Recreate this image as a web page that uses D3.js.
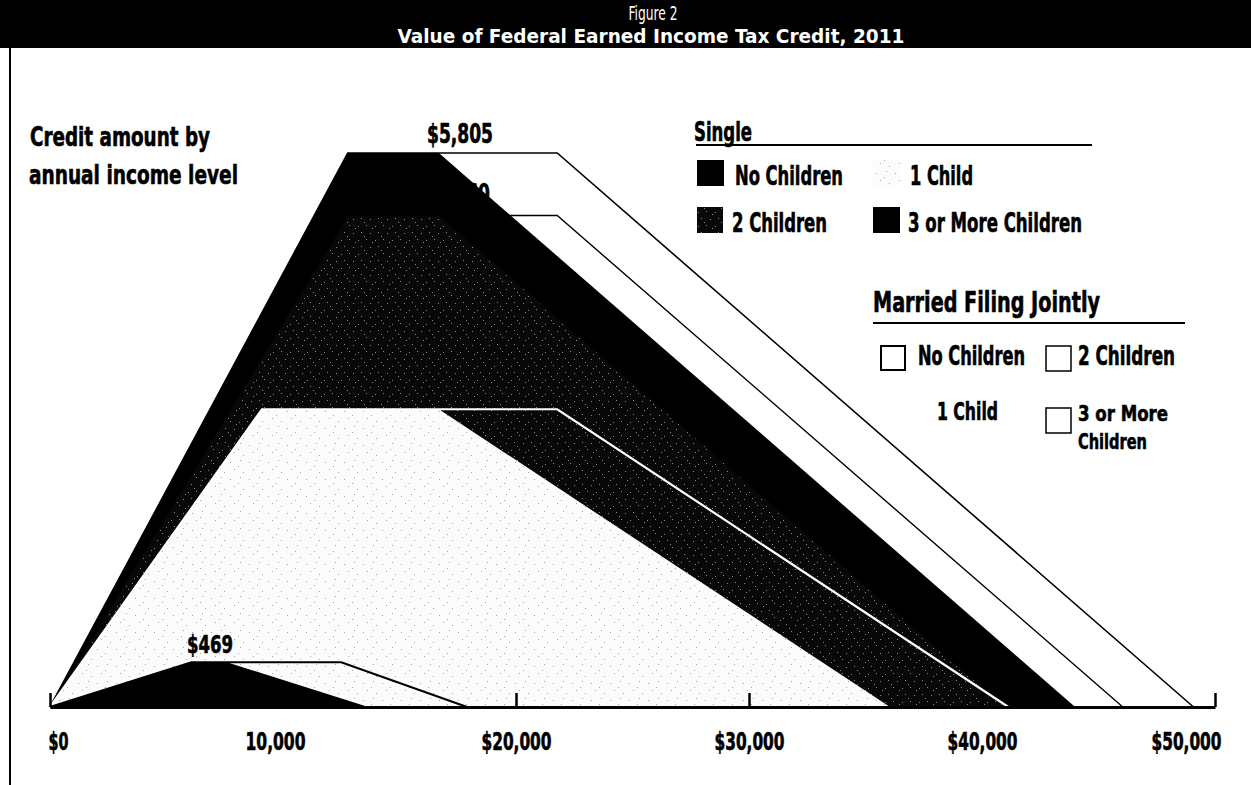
<!DOCTYPE html>
<html>
<head>
<meta charset="utf-8">
<script src="https://cdn.jsdelivr.net/npm/d3@7/dist/d3.min.js"></script>
<style>
  html, body { margin: 0; padding: 0; background: #fff; }
  svg { display: block; }
  .t { font-family: "Liberation Sans Narrow", "DejaVu Sans Condensed", "Liberation Sans", sans-serif; font-weight: bold; fill: #000; stroke: #000; stroke-width: 0.6px; }
</style>
</head>
<body>
<svg id="chart" width="1251" height="785"></svg>
<script>
// ---------- DATA (income in $, credit in $) ----------
const titleLine1 = "Figure 2";
const titleLine2 = "Value of Federal Earned Income Tax Credit, 2011";
const subtitleLines = ["Credit amount by", "annual income level"];

const tickValues = [0, 10000, 20000, 30000, 40000, 50000];
const tickLabels = ["$0", "10,000", "$20,000", "$30,000", "$40,000", "$50,000"];

// Single filers (filled areas)
const singleNoChildren    = [[0, 0], [6070, 469],  [7590, 469],   [13660, 0]];
const singleOneChild      = [[0, 0], [9100, 3120], [16690, 3120], [36052, 0]];
const singleTwoChildren   = [[0, 0], [12780, 5150], [16690, 5150], [40964, 0]];
const singleThreeChildren = [[0, 0], [12780, 5805], [16690, 5805], [43998, 0]];

// Married filing jointly (outlines)
const marriedNoChildren    = [[0, 0], [6070, 469],  [12500, 469],  [17900, 0]];
const marriedOneChild      = [[0, 0], [9100, 3120], [21770, 3120], [41132, 0]];
const marriedTwoChildren   = [[0, 0], [12780, 5150], [21770, 5150], [46044, 0]];
const marriedThreeChildren = [[0, 0], [12780, 5805], [21770, 5805], [49078, 0]];

const valueLabels = [
  { income: 16690, credit: 5805, text: "$5,805" },
  { income: 16690, credit: 5150, text: "$5,160" },
  { income: 7590,  credit: 469,  text: "$469" }
];

const singleLegend  = ["No Children", "1 Child", "2 Children", "3 or More Children"];
const marriedLegend = ["No Children", "2 Children", "1 Child", "3 or More", "Children"];

// ---------- DRAWING ----------
const svg = d3.select("#chart");
const defs = svg.append("defs");

// speckle textures (scanned look)
const darkPat = defs.append("pattern").attr("id", "speckDark")
  .attr("patternUnits", "userSpaceOnUse").attr("width", 17).attr("height", 14);
darkPat.append("rect").attr("width", 17).attr("height", 14).attr("fill", "#080808");
[[1,2],[9,1],[4,8],[13,9],[15,4],[7,12]].forEach(p =>
  darkPat.append("rect").attr("x", p[0]).attr("y", p[1]).attr("width", 1).attr("height", 1).attr("fill", "#8a8a8a"));

const lightPat = defs.append("pattern").attr("id", "speckLight")
  .attr("patternUnits", "userSpaceOnUse").attr("width", 19).attr("height", 17);
lightPat.append("rect").attr("width", 19).attr("height", 17).attr("fill", "#fcfcfc");
[[2,3],[12,1],[6,10],[15,13],[10,7]].forEach(p =>
  lightPat.append("rect").attr("x", p[0]).attr("y", p[1]).attr("width", 1).attr("height", 1).attr("fill", "#a5a5a5"));

// Title bar
svg.append("rect").attr("x", 0).attr("y", 0).attr("width", 1251).attr("height", 48).attr("fill", "#000");
svg.append("text").attr("class", "t").attr("x", 653).attr("y", 20)
  .attr("text-anchor", "middle").style("font-weight", "normal").style("fill", "#fff").style("stroke", "none")
  .style("font-size", "20px").attr("textLength", 49).attr("lengthAdjust", "spacingAndGlyphs").text(titleLine1);
svg.append("text").attr("class", "t").attr("x", 651).attr("y", 43)
  .attr("text-anchor", "middle").style("fill", "#fff").style("stroke", "none")
  .style("font-size", "20px").attr("textLength", 507).attr("lengthAdjust", "spacingAndGlyphs")
  .text(titleLine2);

// left frame line
svg.append("line").attr("x1", 10).attr("x2", 10).attr("y1", 48).attr("y2", 785)
  .attr("stroke", "#000").attr("stroke-width", 2);

// Scales
const x = d3.scaleLinear().domain([0, 50000]).range([50, 1215]);
const y = d3.scaleLinear().domain([0, 5805]).range([707, 153]);

const area = d3.area().x(d => x(d[0])).y0(y(0)).y1(d => y(d[1]));
const line = d3.line().x(d => x(d[0])).y(d => y(d[1]));

const plot = svg.append("g");
plot.append("path").datum(singleThreeChildren).attr("d", area).attr("fill", "#000");
plot.append("path").datum(singleTwoChildren).attr("d", area).attr("fill", "url(#speckDark)");
plot.append("path").datum(singleOneChild).attr("d", area).attr("fill", "url(#speckLight)");
plot.append("path").datum(singleNoChildren).attr("d", area).attr("fill", "#000");

plot.append("path").datum(marriedThreeChildren).attr("d", line).attr("fill", "none").attr("stroke", "#000").attr("stroke-width", 1.6);
plot.append("path").datum(marriedTwoChildren).attr("d", line).attr("fill", "none").attr("stroke", "#000").attr("stroke-width", 1.4);
plot.append("path").datum(marriedOneChild).attr("d", line).attr("fill", "none").attr("stroke", "#fff").attr("stroke-width", 2.2);
plot.append("path").datum(marriedNoChildren).attr("d", line).attr("fill", "none").attr("stroke", "#000").attr("stroke-width", 2.2);

// Axis
const axis = d3.axisBottom(x).tickValues(tickValues)
  .tickFormat((d, i) => tickLabels[i]).tickSizeInner(-14).tickSizeOuter(0).tickPadding(25);
const ax = svg.append("g").attr("transform", `translate(0,${y(0)})`).call(axis);
ax.select(".domain").attr("stroke", "#000").attr("stroke-width", 3);
ax.selectAll(".tick line").attr("stroke", "#000").attr("stroke-width", 2.5);
ax.selectAll(".tick text").attr("class", "t").style("font-size", "24px").attr("fill", "#000")
  .attr("y", 43).attr("dy", null)
  .attr("textLength", (d, i) => i === 1 ? 60 : 70).attr("lengthAdjust", "spacingAndGlyphs");
ax.selectAll(".tick text").filter((d, i) => i === 0).attr("text-anchor", "start").attr("textLength", 20);
ax.selectAll(".tick text").filter((d, i) => i === tickValues.length - 1).attr("text-anchor", "end").attr("dx", 6);
ax.selectAll(".tick text").filter((d, i) => i === 1).attr("dx", -8);
ax.selectAll(".tick text").filter((d, i) => i === 0).attr("dx", -2);

// helper for text
function txt(xp, yp, s, size, len, anchor) {
  const t = svg.append("text").attr("class", "t").attr("x", xp).attr("y", yp)
    .attr("text-anchor", anchor || "start").style("font-size", size + "px").text(s);
  if (len) t.attr("textLength", len).attr("lengthAdjust", "spacingAndGlyphs");
  return t;
}

// Subtitle
txt(30, 146, subtitleLines[0], 27, 180);
txt(29, 184, subtitleLines[1], 27, 209);

// Value labels
txt(493, 143, valueLabels[0].text, 26, 66, "end");
txt(490, 203, valueLabels[1].text, 26, 66, "end");
txt(233, 653, valueLabels[2].text, 25, 46, "end");

// Single legend
txt(694, 141, "Single", 27, 58);
svg.append("line").attr("x1", 696).attr("x2", 1092).attr("y1", 145).attr("y2", 145).attr("stroke", "#000").attr("stroke-width", 2);
svg.append("rect").attr("x", 697).attr("y", 160).attr("width", 27).attr("height", 26).attr("fill", "#000");
txt(735, 185, singleLegend[0], 27, 108);
svg.append("rect").attr("x", 873).attr("y", 160).attr("width", 27).attr("height", 26).attr("fill", "url(#speckLight)");
txt(910, 185, singleLegend[1], 27, 63);
svg.append("rect").attr("x", 697).attr("y", 207).attr("width", 26).attr("height", 26).attr("fill", "url(#speckDark)");
txt(732, 232, singleLegend[2], 27, 95);
svg.append("rect").attr("x", 873).attr("y", 207).attr("width", 27).attr("height", 26).attr("fill", "#000");
txt(908, 232, singleLegend[3], 27, 174);

// Married legend
txt(873, 312, "Married Filing Jointly", 28, 227);
svg.append("line").attr("x1", 873).attr("x2", 1185).attr("y1", 323).attr("y2", 323).attr("stroke", "#000").attr("stroke-width", 2);
svg.append("rect").attr("x", 881).attr("y", 346).attr("width", 24).attr("height", 24).attr("fill", "#fff").attr("stroke", "#000").attr("stroke-width", 2);
txt(918, 365, marriedLegend[0], 26, 107);
svg.append("rect").attr("x", 1046).attr("y", 346).attr("width", 25).attr("height", 25).attr("fill", "#fff").attr("stroke", "#000").attr("stroke-width", 1.5);
txt(1078, 365, marriedLegend[1], 26, 97);
svg.append("rect").attr("x", 881).attr("y", 401).attr("width", 24).attr("height", 24).attr("fill", "#fff").attr("stroke", "#fff").attr("stroke-width", 2);
txt(937, 420, marriedLegend[2], 25, 61);
svg.append("rect").attr("x", 1046).attr("y", 408).attr("width", 25).attr("height", 25).attr("fill", "#fff").attr("stroke", "#000").attr("stroke-width", 1.5);
txt(1078, 421, marriedLegend[3], 22, 90);
txt(1078, 449, marriedLegend[4], 22, 69);
</script>
</body>
</html>
